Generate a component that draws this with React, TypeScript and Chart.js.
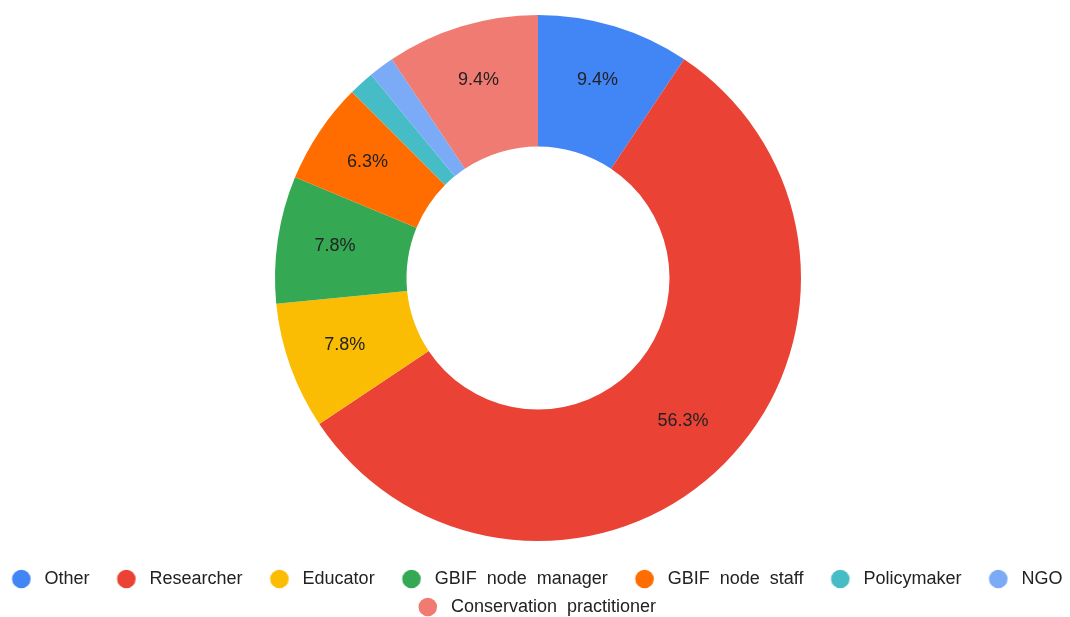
import React, { useEffect, useRef } from "react";
import { Chart, registerables } from "chart.js";

Chart.register(...registerables);

const categories = [
  "Other",
  "Researcher",
  "Educator",
  "GBIF node manager",
  "GBIF node staff",
  "Policymaker",
  "NGO",
  "Conservation practitioner",
];
const counts = [6, 36, 5, 5, 4, 1, 1, 6];
const colors = [
  "#4285F4",
  "#EA4335",
  "#FBBC04",
  "#34A853",
  "#FF6D01",
  "#46BDC6",
  "#7BAAF7",
  "#F07B72",
];

const FONT = "'Liberation Sans', Arial, sans-serif";
const TEXT_COLOR = "#222222";

function makeDot(color: string): HTMLCanvasElement {
  const c = document.createElement("canvas");
  c.width = 41;
  c.height = 20;
  const ctx = c.getContext("2d")!;
  ctx.fillStyle = color;
  ctx.beginPath();
  ctx.arc(26.8, 10, 9.3, 0, Math.PI * 2);
  ctx.fill();
  return c;
}

const sliceLabels = {
  id: "sliceLabels",
  afterDatasetsDraw(chart: any) {
    const meta = chart.getDatasetMeta(0);
    const data = chart.data.datasets[0].data as number[];
    const total = data.reduce((a, b) => a + b, 0);
    const ctx = chart.ctx;
    ctx.save();
    ctx.font = `18px ${FONT}`;
    ctx.fillStyle = TEXT_COLOR;
    ctx.textAlign = "center";
    ctx.textBaseline = "middle";
    meta.data.forEach((arc: any, i: number) => {
      const share = data[i] / total;
      if (share < 0.05) return;
      const { x, y, startAngle, endAngle, innerRadius, outerRadius } = arc.getProps(
        ["x", "y", "startAngle", "endAngle", "innerRadius", "outerRadius"],
        true
      );
      const mid = (startAngle + endAngle) / 2;
      const r = innerRadius + (outerRadius - innerRadius) * 0.56;
      ctx.fillText((share * 100).toFixed(1) + "%", x + Math.cos(mid) * r, y + Math.sin(mid) * r - 2);
    });
    ctx.restore();
  },
};

const setSpacing = (chart: any) => {
  try {
    (chart.ctx as any).wordSpacing = "5px";
  } catch (e) {
    /* ignore */
  }
};

const layoutTweak = {
  id: "layoutTweak",
  beforeLayout(chart: any) {
    setSpacing(chart);
  },
  beforeDraw(chart: any) {
    setSpacing(chart);
  },
  afterLayout(chart: any) {
    const area = chart.chartArea;
    if (area) {
      area.left += 3;
      area.right += 3;
    }
    const lg = chart.legend;
    if (!lg) return;
    lg.left -= 9;
    lg.right -= 9;
    lg.top += 19;
    lg.bottom += 19;
  },
};

export default function App() {
  const ref = useRef<HTMLCanvasElement | null>(null);

  useEffect(() => {
    if (!ref.current) return;
    const dots = colors.map(makeDot);
    const chart = new Chart(ref.current, {
      type: "doughnut",
      data: {
        labels: categories,
        datasets: [
          {
            data: counts,
            backgroundColor: colors,
            borderWidth: 0,
            hoverOffset: 0,
          },
        ],
      },
      options: {
        animation: false,
        responsive: false,
        events: [],
        cutout: "50%",
        layout: { padding: { top: 15, bottom: 10, left: -10, right: -15 } },
        plugins: {
          tooltip: { enabled: false },
          legend: {
            position: "bottom",
            labels: {
              usePointStyle: true,
              pointStyleWidth: 41,
              padding: 10,
              color: TEXT_COLOR,
              font: { family: FONT, size: 18 },
              generateLabels: () =>
                categories.map((text, i) => ({
                  text,
                  fillStyle: colors[i],
                  strokeStyle: colors[i],
                  lineWidth: 0,
                  hidden: false,
                  index: i,
                  pointStyle: dots[i],
                  fontColor: TEXT_COLOR,
                })),
            },
          },
        },
      },
      plugins: [sliceLabels, layoutTweak],
    });
    return () => chart.destroy();
  }, []);

  return (
    <div style={{ position: "fixed", left: 0, top: 0, width: 1070, height: 617, background: "#fff" }}>
      <canvas ref={ref} width={1070} height={617} style={{ display: "block" }} />
    </div>
  );
}
